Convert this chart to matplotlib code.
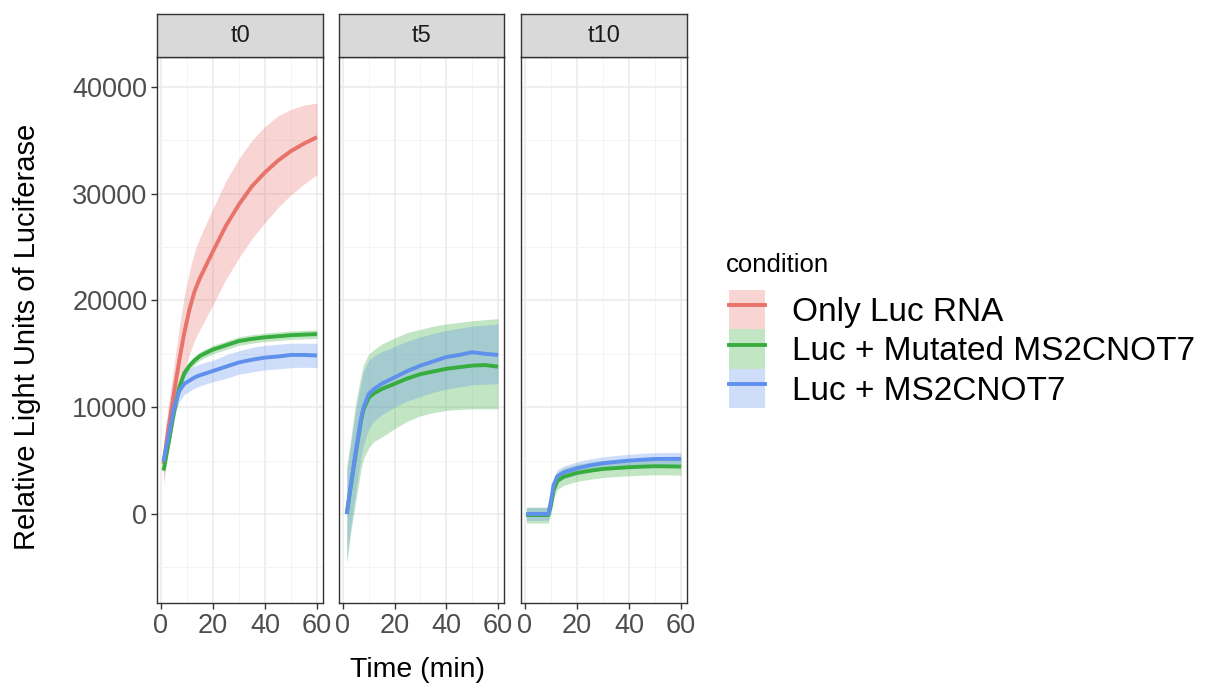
import matplotlib
matplotlib.use("Agg")
import matplotlib.pyplot as plt
import numpy as np
from matplotlib.patches import Patch
from matplotlib.lines import Line2D

plt.rcParams['font.family'] = ['Liberation Sans', 'DejaVu Sans']

panels = ["t0", "t5", "t10"]
conditions = ["Only Luc RNA", "Luc + Mutated MS2CNOT7", "Luc + MS2CNOT7"]
colors = ["#E8736A", "#36AD3E", "#5F91EC"]

# ---- t0 ----
t0_time = [1, 3, 5, 7, 9, 11, 13, 15, 17, 20, 25, 30, 35, 40, 45, 50, 55, 60]
t0_red = [4700, 8200, 11300, 14300, 17000, 19200, 20900, 22100, 23100, 24600, 27000, 29000, 30700, 32000, 33100, 34000, 34700, 35300]
t0_red_lo = [2800, 6000, 8700, 11200, 13400, 15000, 16300, 17300, 18200, 19600, 22000, 24000, 25800, 27300, 28700, 29900, 30900, 31800]
t0_red_hi = [6600, 10400, 13900, 17400, 20400, 22800, 24600, 25900, 27000, 28600, 31200, 33300, 35000, 36300, 37300, 37900, 38300, 38500]
t0_green = [4070, 6700, 9500, 11800, 13200, 13900, 14400, 14800, 15050, 15400, 15800, 16200, 16400, 16550, 16650, 16750, 16800, 16850]
t0_green_lo = [3700, 6300, 9100, 11400, 12800, 13500, 14000, 14400, 14650, 15000, 15400, 15800, 16000, 16150, 16250, 16350, 16400, 16450]
t0_green_hi = [4450, 7100, 9900, 12200, 13600, 14300, 14800, 15200, 15450, 15800, 16200, 16600, 16800, 16950, 17050, 17150, 17200, 17250]
t0_blue = [4900, 7400, 9900, 11500, 12200, 12500, 12800, 13000, 13150, 13400, 13800, 14200, 14450, 14650, 14750, 14900, 14900, 14850]
t0_blue_lo = [4300, 6700, 9000, 10500, 11200, 11500, 11800, 12000, 12150, 12400, 12700, 13100, 13300, 13500, 13600, 13700, 13750, 13700]
t0_blue_hi = [5500, 8100, 10800, 12500, 13200, 13600, 13850, 14050, 14200, 14400, 14900, 15300, 15600, 15800, 15900, 16000, 16000, 16000]

# ---- t5 ----
t5_time = [1.5, 3, 5, 7, 8, 10, 12, 15, 20, 25, 30, 35, 40, 45, 50, 55, 60]
t5_green = [0, 2500, 5700, 8700, 9800, 10900, 11300, 11700, 12200, 12700, 13100, 13350, 13600, 13750, 13900, 13950, 13800]
t5_green_lo = [-4700, -1800, 1200, 4200, 5200, 6200, 6800, 7200, 8000, 8700, 9200, 9500, 9700, 9800, 9850, 9850, 9850]
t5_green_hi = [4400, 7000, 10500, 13000, 14000, 15000, 15400, 15900, 16500, 17000, 17300, 17600, 17800, 17950, 18100, 18200, 18300]
t5_blue = [0, 2600, 5900, 8900, 10000, 11250, 11700, 12200, 12800, 13400, 13900, 14300, 14700, 14900, 15150, 15000, 14900]
t5_blue_lo = [-4000, -1200, 2000, 5300, 6500, 8000, 8700, 9300, 10000, 10600, 11000, 11400, 11700, 11900, 12100, 12150, 12200]
t5_blue_hi = [4000, 6500, 9800, 12300, 13400, 14400, 14800, 15200, 15700, 16200, 16600, 16900, 17200, 17400, 17600, 17700, 17800]

# ---- t10 ----
t10_time = [0.5, 3, 6, 9, 10, 11, 12.5, 15, 20, 25, 30, 35, 40, 45, 50, 55, 60]
t10_green = [-100, -100, -100, -100, 800, 2200, 3100, 3500, 3850, 4050, 4220, 4300, 4380, 4430, 4470, 4460, 4440]
t10_green_lo = [-850, -850, -850, -850, 0, 1400, 2300, 2700, 3050, 3250, 3420, 3500, 3580, 3630, 3670, 3660, 3640]
t10_green_hi = [650, 650, 650, 650, 1600, 3000, 3900, 4300, 4650, 4850, 5020, 5100, 5180, 5230, 5270, 5260, 5240]
t10_blue = [0, 0, 0, 0, 1200, 2700, 3550, 3900, 4280, 4550, 4750, 4880, 5000, 5080, 5150, 5160, 5160]
t10_blue_lo = [-600, -600, -600, -600, 600, 2100, 2950, 3300, 3680, 3950, 4150, 4280, 4400, 4480, 4550, 4560, 4560]
t10_blue_hi = [600, 600, 600, 600, 1800, 3300, 4150, 4500, 4880, 5150, 5350, 5480, 5600, 5680, 5750, 5760, 5760]

data = {
    "t0": (t0_time, [(t0_red, t0_red_lo, t0_red_hi), (t0_green, t0_green_lo, t0_green_hi), (t0_blue, t0_blue_lo, t0_blue_hi)]),
    "t5": (t5_time, [None, (t5_green, t5_green_lo, t5_green_hi), (t5_blue, t5_blue_lo, t5_blue_hi)]),
    "t10": (t10_time, [None, (t10_green, t10_green_lo, t10_green_hi), (t10_blue, t10_blue_lo, t10_blue_hi)]),
}

W, H = 1205, 683
fig = plt.figure(figsize=(W / 100, H / 100), dpi=100)

panel_x = [(157, 323), (339, 504), (521, 687)]
y_top, y_bot = 57, 603
strip_top = 14

for i, name in enumerate(panels):
    x0, x1 = panel_x[i]
    ax = fig.add_axes([x0 / W, (H - y_bot) / H, (x1 - x0) / W, (y_bot - y_top) / H])
    sax = fig.add_axes([x0 / W, (H - y_top) / H, (x1 - x0) / W, (y_top - strip_top) / H])
    sax.set_facecolor("#D9D9D9")
    sax.set_xticks([]); sax.set_yticks([])
    for sp in sax.spines.values():
        sp.set_color("#333333"); sp.set_linewidth(1.0)
    sax.text(0.5, 0.5, name, ha="center", va="center", fontsize=17, color="#1A1A1A", transform=sax.transAxes)

    t, series = data[name]
    for s, col in zip(series, colors):
        if s is None:
            continue
        m, lo, hi = s
        ax.fill_between(t, lo, hi, color=col, alpha=0.3, linewidth=0)
    for s, col in zip(series, colors):
        if s is None:
            continue
        m, lo, hi = s
        ax.plot(t, m, color=col, linewidth=2.8, solid_capstyle="butt")

    ax.set_xlim(-1.5, 62.3)
    ax.set_ylim(-8340, 42810)
    ax.set_xticks([0, 20, 40, 60])
    ax.set_xticks([10, 30, 50], minor=True)
    ax.set_yticks([0, 10000, 20000, 30000, 40000])
    ax.set_yticks([-5000, 5000, 15000, 25000, 35000], minor=True)
    ax.grid(True, which="major", color="#EBEBEB", linewidth=1.1)
    ax.grid(True, which="minor", color="#F2F2F2", linewidth=0.6)
    ax.set_axisbelow(True)
    for sp in ax.spines.values():
        sp.set_color("#333333"); sp.set_linewidth(1.0)
    ax.tick_params(axis="both", which="major", length=4, color="#333333", labelsize=19.5, labelcolor="#4D4D4D", width=1.0, pad=3)
    ax.tick_params(axis="both", which="minor", length=0)
    if i > 0:
        ax.tick_params(axis="y", labelleft=False, length=0)

fig.text(27 / W, 1 - 337 / H, "Relative Light Units of Luciferase", rotation=90,
         ha="center", va="center", fontsize=21, color="black")
fig.text(417 / W, 1 - 670 / H, "Time (min)", ha="center", va="center", fontsize=20.5)

# Legend
fig.text(726 / W, 1 - 265 / H, "condition", ha="left", va="center", fontsize=18.5)
handles = []
for c, col in zip(conditions, colors):
    handles.append((Patch(facecolor=col, alpha=0.3, edgecolor="none"), Line2D([], [], color=col, linewidth=2.8)))
leg = fig.legend(handles, conditions, loc="upper left", bbox_to_anchor=(722 / W, 1 - 283 / H),
                 frameon=False, fontsize=24,
                 handlelength=1.1, handleheight=1.45, handletextpad=0.8, labelspacing=0.0,
                 borderaxespad=0, borderpad=0.2)

fig.savefig("out.png", dpi=100)
